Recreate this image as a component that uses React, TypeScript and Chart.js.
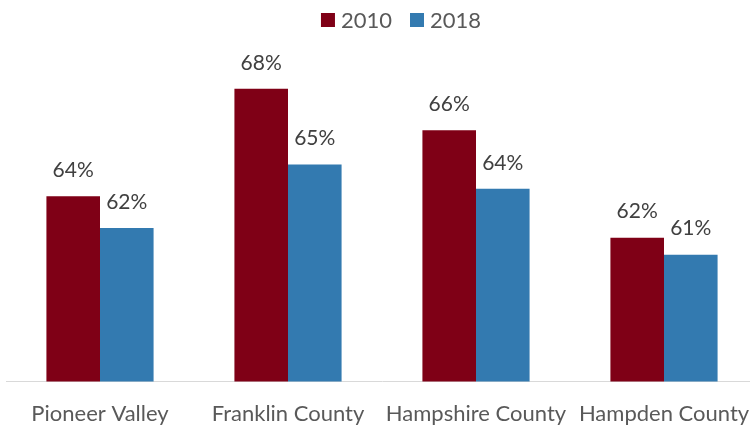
import React, { useEffect, useRef } from "react";
import { Chart, registerables } from "chart.js";

Chart.register(...registerables);

const categories = ["Pioneer Valley", "Franklin County", "Hampshire County", "Hampden County"];
const series2010 = [63.6, 68.0, 66.3, 61.9];
const series2018 = [62.3, 64.9, 63.9, 61.2];
const seriesNames = ["2010", "2018"];
const colors = ["#7F0016", "#337AB0"];

const FONT = "Lato, 'Liberation Sans', sans-serif";

const labelPlugin = {
  id: "barLabels",
  afterDatasetsDraw(chart: any) {
    const ctx = chart.ctx;
    ctx.save();
    ctx.font = `21px ${FONT}`;
    ctx.fillStyle = "#404040";
    ctx.textAlign = "center";
    ctx.textBaseline = "middle";
    chart.data.datasets.forEach((ds: any, i: number) => {
      const meta = chart.getDatasetMeta(i);
      meta.data.forEach((bar: any, j: number) => {
        const v = ds.data[j];
        ctx.fillText(`${Math.round(v)}%`, bar.x, bar.y - 26);
      });
    });
    ctx.restore();
  },
};

const legendPlugin = {
  id: "customLegend",
  afterDraw(chart: any) {
    const ctx = chart.ctx;
    ctx.save();
    ctx.font = `22px ${FONT}`;
    ctx.textBaseline = "middle";
    ctx.textAlign = "left";
    const box = 14;
    const gapBoxText = 6;
    const gapItems = 18;
    const items = chart.data.datasets.map((ds: any) => ({
      label: ds.label,
      color: ds.backgroundColor,
      w: ctx.measureText(ds.label).width,
    }));
    const total = items.reduce((s: number, it: any) => s + box + gapBoxText + it.w, 0) + gapItems * (items.length - 1);
    let x = 401 - total / 2;
    const cy = 20;
    items.forEach((it: any) => {
      ctx.fillStyle = it.color;
      ctx.fillRect(x, cy - box / 2, box, box);
      x += box + gapBoxText;
      ctx.fillStyle = "#595959";
      ctx.fillText(it.label, x, cy + 1);
      x += it.w + gapItems;
    });
    ctx.restore();
  },
};

export default function App() {
  const ref = useRef<HTMLCanvasElement>(null);
  useEffect(() => {
    document.body.style.margin = "0";
    document.body.style.overflow = "hidden";
    const chart = new Chart(ref.current!, {
      type: "bar",
      data: {
        labels: categories,
        datasets: [
          { label: seriesNames[0], data: series2010, backgroundColor: colors[0] },
          { label: seriesNames[1], data: series2018, backgroundColor: colors[1] },
        ],
      },
      options: {
        animation: false,
        responsive: false,
        maintainAspectRatio: false,
        layout: { padding: { left: 6, right: 0, top: 40, bottom: 0 } },
        datasets: { bar: { barPercentage: 1, categoryPercentage: 0.57 } },
        plugins: {
          legend: { display: false },
          tooltip: { enabled: false },
        },
        scales: {
          x: {
            grid: { display: false, drawTicks: true, tickLength: 18 },
            border: { color: "#D9D9D9", width: 1 },
            ticks: { color: "#595959", font: { family: FONT, size: 22 }, padding: 1 },
          },
          y: { display: false, min: 56, max: 70 },
        },
      },
      plugins: [labelPlugin, legendPlugin],
    });
    return () => chart.destroy();
  }, []);
  return (
    <div style={{ position: "relative", width: 750, height: 428, overflow: "hidden" }}>
      <canvas ref={ref} width={758} height={428} style={{ position: "absolute", left: 0, top: 0 }} />
    </div>
  );
}
